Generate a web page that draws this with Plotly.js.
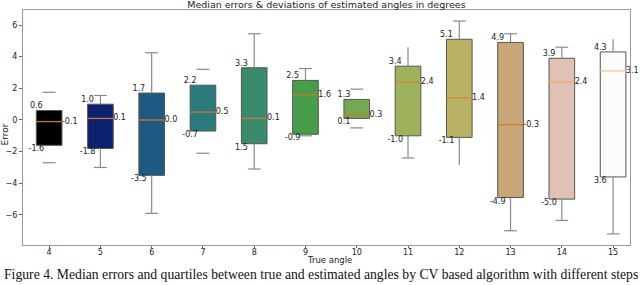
<!DOCTYPE html>
<html><head><meta charset="utf-8">
<script src="https://cdn.plot.ly/plotly-3.0.1.min.js"></script>
<style>html,body{margin:0;padding:0;background:#fff}#c{width:640px;height:285px}</style>
</head><body><div id="c"></div>
<script>
const angles = [4,5,6,7,8,9,10,11,12,13,14,15];
const q1 = [-1.6,-1.8,-3.5,-0.7,-1.5,-0.9,0.1,-1.0,-1.1,-4.9,-5.0,-3.6];
const q3 = [0.6,1.0,1.7,2.2,3.3,2.5,1.3,3.4,5.1,4.9,3.9,4.3];
const medians = [-0.1,0.1,0.0,0.5,0.1,1.6,0.3,2.4,1.4,-0.3,2.4,3.1];
const whiskerHi = [1.75,1.55,4.25,3.2,5.45,3.25,1.95,4.6,6.25,5.45,4.6,5.1];
const whiskerLo = [-2.7,-3.0,-5.9,-2.1,-3.1,-1.0,-0.5,-2.4,-2.85,-7.0,-6.35,-7.2];
const q1Labels = ["-1.6","-1.8","-3.5","-0.7","1.5","-0.9","0.1","-1.0","-1.1","-4.9","-5.0","3.6"];
const q3Labels = ["0.6","1.0","1.7","2.2","3.3","2.5","1.3","3.4","5.1","4.9","3.9","4.3"];
const medLabels = ["-0.1","0.1","0.0","0.5","0.1","1.6","0.3","2.4","1.4","-0.3","2.4","3.1"];
const showStem = [false,true,true,false,true,true,false,true,true,true,true,true];
const showCapHi = [true,true,true,true,true,true,true,false,true,true,true,false];
const showCapLo = [true,true,true,true,true,true,true,true,false,true,true,true];
const boxColors = ["#000000","#0d2170","#1f5a82","#2a7a7b","#398b6c","#489d4a","#74a851","#9db25b","#b9b163","#c9a678","#e1c1b4","#fcfcfc"];
const medColors = ["#c8782e","#c8782e","#c8782e","#c8782e","#c8782e","#c8782e","#c8782e","#d08a3a","#c8902e","#c8803a","#f0a868","#ffc890"];
const titleText = "Median errors & deviations of estimated angles in degrees";
const xTitle = "True angle";
const yTitle = "Error";
const caption = "Figure 4. Median errors and quartiles between true and estimated angles by CV based algorithm with different steps";

const HW = 0.25, CW = 0.125;
const traces = [];
angles.forEach((a,i)=>{
  const xs=[], ys=[];
  if (showStem[i]) { xs.push(a,a,null,a,a,null); ys.push(q3[i],whiskerHi[i],null,q1[i],whiskerLo[i],null); }
  if (showCapHi[i]) { xs.push(a-CW,a+CW,null); ys.push(whiskerHi[i],whiskerHi[i],null); }
  if (showCapLo[i]) { xs.push(a-CW,a+CW,null); ys.push(whiskerLo[i],whiskerLo[i],null); }
  traces.push({type:'scatter',mode:'lines',x:xs,y:ys,line:{color:'#8a8a8a',width:1.2},hoverinfo:'skip',showlegend:false});
});
traces.push({type:'bar',x:angles,base:q1,y:q3.map((v,i)=>v-q1[i]),width:0.5,
  marker:{color:boxColors,line:{color:'#555555',width:1}},showlegend:false,hoverinfo:'skip'});
angles.forEach((a,i)=>{
  traces.push({type:'scatter',mode:'lines',x:[a-HW,a+HW],y:[medians[i],medians[i]],
    line:{color:medColors[i],width:1.3},hoverinfo:'skip',showlegend:false});
});
const tf = {family:'DejaVu Sans',size:8,color:'#222'};
traces.push({type:'scatter',mode:'text',x:angles.map(a=>a-HW),y:q3,text:q3Labels,textposition:'top center',textfont:tf,cliponaxis:false,showlegend:false,hoverinfo:'skip'});
traces.push({type:'scatter',mode:'text',x:angles.map(a=>a-HW),y:q1,text:q1Labels,textposition:'bottom center',textfont:tf,cliponaxis:false,showlegend:false,hoverinfo:'skip'});
traces.push({type:'scatter',mode:'text',x:angles.map(a=>a+HW),y:medians,text:medLabels,textposition:'middle right',textfont:tf,cliponaxis:false,showlegend:false,hoverinfo:'skip'});

const layout = {
  width:640,height:285,margin:{l:23,r:10,t:10,b:40},
  paper_bgcolor:'#fff',plot_bgcolor:'#fff',
  font:{family:'DejaVu Sans',size:8,color:'#222'},
  title:{text:titleText,font:{family:'DejaVu Sans',size:9.5,color:'#222'},x:0.51,xanchor:'center',y:0.997,yref:'container',yanchor:'top',pad:{t:0,b:0}},
  xaxis:{range:[3.49,15.33],tickvals:angles,ticktext:angles.map(String),ticks:'outside',ticklen:2,tickcolor:'#666',ticklabelstandoff:-3,
    showline:true,mirror:true,linecolor:'#999',linewidth:1,showgrid:false,zeroline:false,
    tickfont:{family:'DejaVu Sans',size:8,color:'#222'}},
  yaxis:{range:[-7.9,6.95],tickvals:[-6,-4,-2,0,2,4,6],ticks:'outside',ticklen:3,tickcolor:'#666',
    showline:true,mirror:true,linecolor:'#999',linewidth:1,showgrid:false,zeroline:false,
    tickfont:{family:'DejaVu Sans',size:8,color:'#222'}},
  bargap:0,
  annotations:[
    {text:xTitle,xref:'paper',yref:'paper',x:0.505,y:0,xanchor:'center',yanchor:'middle',yshift:-15,showarrow:false,
      font:{family:'DejaVu Sans',size:8.5,color:'#222'}},
    {text:yTitle,xref:'paper',yref:'paper',x:0,y:0.47,xanchor:'center',yanchor:'middle',xshift:-18,textangle:-90,showarrow:false,
      font:{family:'DejaVu Sans',size:9,color:'#222'}},
    {text:caption,xref:'paper',yref:'paper',x:0,y:0,xanchor:'left',yanchor:'top',xshift:-21,yshift:-20,
    showarrow:false,font:{family:'Liberation Serif',size:13.7,color:'#111'}}]
};
Plotly.newPlot('c',traces,layout,{staticPlot:true});
</script></body></html>
